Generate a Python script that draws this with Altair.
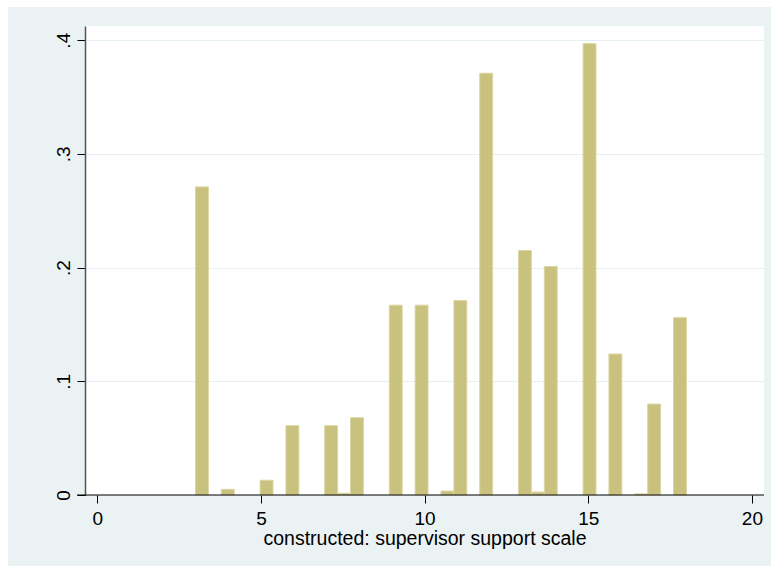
import altair as alt
import pandas as pd

# Histogram of the supervisor support scale (density scale)
XMIN, XMAX, NBINS = 3.0, 18.0, 38
bin_index = [0, 2, 5, 7, 10, 11, 12, 15, 17, 19, 20, 22, 25, 26, 27, 30, 32, 34, 35, 37]
density = [0.271, 0.005, 0.013, 0.061, 0.061, 0.0015, 0.068, 0.167, 0.167, 0.0035,
           0.171, 0.371, 0.215, 0.0026, 0.201, 0.397, 0.124, 0.001, 0.080, 0.156]
x_ticks = [0, 5, 10, 15, 20]
y_ticks = [0, 0.1, 0.2, 0.3, 0.4]

bw = (XMAX - XMIN) / NBINS
bars_df = pd.DataFrame({
    "lo": [XMIN + i * bw for i in bin_index],
    "hi": [XMIN + (i + 1) * bw for i in bin_index],
    "density": density,
})

W, H = 679, 469
PAD = {"left": 85, "top": 26, "right": 7, "bottom": 71}
FONT = "Liberation Sans"

one = pd.DataFrame({"k": [0]})

x_scale = alt.Scale(domain=[-0.376, 20.37], nice=False, zero=False)
y_scale = alt.Scale(domain=[0, 0.4125], nice=False)

# white margin strips along the top and left edges of the canvas
strip_top = alt.Chart(one).mark_rect(color="white").encode(
    x=alt.value(-PAD["left"]), x2=alt.value(W + PAD["right"]),
    y=alt.value(-PAD["top"]), y2=alt.value(-19),
)
strip_left = alt.Chart(one).mark_rect(color="white").encode(
    x=alt.value(-PAD["left"]), x2=alt.value(-77),
    y=alt.value(-PAD["top"]), y2=alt.value(H + PAD["bottom"]),
)

bars = alt.Chart(bars_df).mark_rect(
    fill="#C9C27E", stroke="#DCD6A6", strokeWidth=1
).encode(
    x=alt.X("lo:Q", scale=x_scale, axis=alt.Axis(
        values=x_ticks, title="constructed: supervisor support scale",
        domain=False, grid=False, tickSize=8, tickColor="#000", tickWidth=1,
        labelFont=FONT, labelFontSize=19, labelColor="#000", labelPadding=6,
        titleFont=FONT, titleFontSize=19.5, titleFontWeight="normal", titleColor="#000",
        titleBaseline="alphabetic", titleY=49,
    )),
    x2="hi:Q",
    y=alt.Y("density:Q", scale=y_scale, axis=alt.Axis(
        values=y_ticks, title=None,
        labelExpr="datum.value == 0 ? '0' : replace(format(datum.value, '.1f'), '0.', '.')",
        labelAngle=270, labelAlign="center", labelBaseline="bottom", labelPadding=4,
        labelFont=FONT, labelFontSize=19, labelColor="#000",
        tickSize=8, tickColor="#000", tickWidth=1,
        domainColor="#555", domainWidth=1.5,
        grid=True, gridColor="#E6EFF1", gridWidth=1.2,
    )),
    y2=alt.datum(0),
)

x_line = alt.Chart(one).mark_rule(color="#000", strokeWidth=1).encode(
    x=alt.value(-8), x2=alt.value(W), y=alt.value(H),
)

chart = alt.layer(strip_top, strip_left, bars, x_line).properties(
    width=W, height=H,
    autosize=alt.AutoSizeParams(type="none"),
    padding=PAD,
    background="#EAF2F3",
).configure_view(fill="white", strokeWidth=0)

chart.save("out.html", embed_options={"renderer": "svg", "actions": False})
